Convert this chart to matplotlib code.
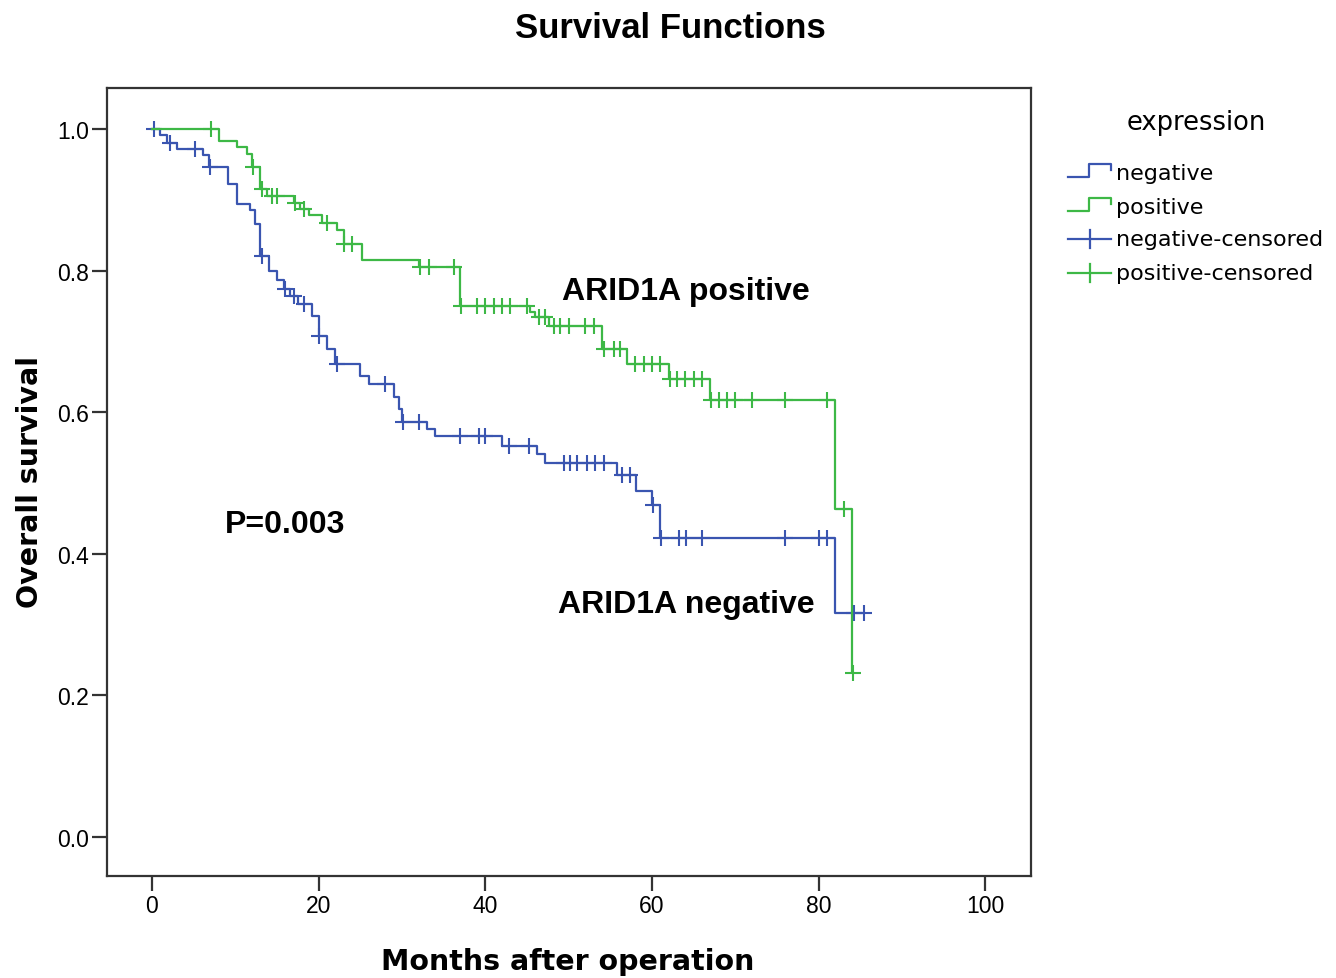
import numpy as np
import matplotlib
matplotlib.use("Agg")
import matplotlib.pyplot as plt
from matplotlib.lines import Line2D

# negative group: step times and survival after each step
neg_times = [1.0, 1.8, 3.0, 6.1, 6.8, 9.1, 10.2, 11.8, 12.4, 13.0, 14.0, 15.0,
             15.8, 16.6, 17.5, 19.2, 20.0, 21.0, 22.0, 25.0, 26.0, 29.0, 29.6,
             30.0, 33.0, 34.0, 42.0, 46.2, 47.2, 55.8, 58.1, 60.0, 61.0, 82.0]
neg_surv = [0.991, 0.981, 0.972, 0.963, 0.946, 0.922, 0.894, 0.885, 0.866,
            0.821, 0.800, 0.787, 0.774, 0.764, 0.753, 0.736, 0.708, 0.689,
            0.668, 0.651, 0.640, 0.621, 0.605, 0.586, 0.576, 0.567, 0.553,
            0.541, 0.529, 0.511, 0.489, 0.469, 0.423, 0.317]
neg_censored = [0.2, 2.2, 5.2, 7.0, 13.2, 16.0, 17.0, 18.2, 20.1, 22.2, 28.0,
                30.1, 32.0, 37.0, 39.2, 40.0, 42.8, 45.2, 49.4, 50.2, 51.0,
                52.2, 53.2, 54.2, 56.4, 57.4, 60.1, 61.1, 63.2, 64.1, 66.0,
                76.0, 80.0, 81.0, 84.2, 85.4]

# positive group
pos_times = [8.0, 10.2, 11.4, 12.0, 13.0, 13.8, 17.0, 17.8, 18.8, 20.4, 22.2,
             23.0, 25.2, 32.0, 37.0, 45.4, 46.0, 47.6, 54.0, 57.0, 62.0, 67.0,
             82.0, 84.0]
pos_surv = [0.983, 0.974, 0.965, 0.946, 0.915, 0.905, 0.896, 0.887, 0.878,
            0.868, 0.858, 0.838, 0.815, 0.805, 0.750, 0.741, 0.734, 0.722,
            0.689, 0.668, 0.647, 0.617, 0.463, 0.232]
pos_censored = [7.1, 12.1, 13.2, 14.4, 15.0, 17.2, 18.3, 21.0, 23.1, 24.0,
                32.2, 33.2, 36.2, 37.1, 39.0, 40.0, 41.0, 42.0, 43.0, 45.0,
                46.4, 47.2, 48.2, 49.0, 50.0, 52.0, 53.0, 54.2, 55.4, 56.2,
                58.0, 59.0, 60.0, 61.0, 62.2, 63.0, 64.0, 65.0, 66.0, 67.1,
                68.0, 69.0, 70.0, 72.0, 76.0, 81.0, 83.0, 84.1]

blue = "#3A55B0"
green = "#3DB846"
legend_labels = ["negative", "positive", "negative-censored", "positive-censored"]


def surv_at(times, surv, t):
    idx = np.searchsorted(times, t, side="right")
    return 1.0 if idx == 0 else surv[idx - 1]


def draw_group(ax, times, surv, cens, color):
    end = max(max(cens), times[-1])
    xs = [0.0] + list(times) + [end]
    ys = [1.0] + list(surv) + [surv[-1]]
    ax.step(xs, ys, where="post", color=color, lw=1.6)
    cy = [surv_at(times, surv, t) for t in cens]
    ax.plot(cens, cy, ls="none", marker="+", ms=12, mew=1.5, color=color)


W, H = 1336, 979
fig = plt.figure(figsize=(W / 100, H / 100), dpi=100)
ax = fig.add_axes([107 / W, 1 - 877 / H, (1031 - 107) / W, (877 - 89) / H])

draw_group(ax, neg_times, neg_surv, neg_censored, blue)
draw_group(ax, pos_times, pos_surv, pos_censored, green)

ax.set_xlim(-5.4, 105.5)
ax.set_ylim(-0.055, 1.058)
ax.set_xticks([0, 20, 40, 60, 80, 100])
ax.set_yticks([0.0, 0.2, 0.4, 0.6, 0.8, 1.0])
ax.set_yticklabels(["0.0", "0.2", "0.4", "0.6", "0.8", "1.0"])
for s in ax.spines.values():
    s.set_linewidth(1.6)
    s.set_color("#333333")
ax.tick_params(length=11, width=1.6, color="#333333", pad=2,
               labelsize=16.5, labelfontfamily="Liberation Sans")


def fx(x):
    return x / W


def fy(y):
    return 1 - y / H


# axis titles, placed like the reference
fig.text(fx(568), fy(962), "Months after operation", ha="center", va="center",
         fontsize=20.5, fontweight="bold")
fig.text(fx(30), fy(482), "Overall survival", ha="center", va="center",
         rotation=90, fontsize=20.5, fontweight="bold")

bold = dict(fontfamily="Liberation Sans", fontweight="bold", fontsize=23,
            va="center")
ax.text(49.2, 0.771, "ARID1A positive", **bold)
ax.text(8.8, 0.442, "P=0.003", **bold)
ax.text(48.7, 0.329, "ARID1A negative", **bold)

fig.text(fx(670), fy(28), "Survival Functions", ha="center", va="center",
         fontfamily="Liberation Sans", fontweight="bold", fontsize=25)

# legend, drawn in pixel positions of the figure
fig.text(fx(1196), fy(123), "expression", ha="center", va="center", fontsize=18.5)
rows = [174, 208, 240, 274]
colors = [blue, green, blue, green]
for i, (lab, c, r) in enumerate(zip(legend_labels, colors, rows)):
    if i < 2:
        xs = [1068, 1089, 1089, 1111, 1111]
        ys = [r + 4, r + 4, r - 9, r - 9, r - 3]
        fig.add_artist(Line2D([fx(v) for v in xs], [fy(v) for v in ys],
                              transform=fig.transFigure, color=c, lw=1.6))
    else:
        fig.add_artist(Line2D([fx(1068), fx(1111)], [fy(r), fy(r)],
                              transform=fig.transFigure, color=c, lw=1.6))
        fig.add_artist(Line2D([fx(1090), fx(1090)], [fy(r - 9), fy(r + 9)],
                              transform=fig.transFigure, color=c, lw=1.6))
    fig.text(fx(1116), fy(r), lab, ha="left", va="center", fontsize=16)

fig.savefig("out.png", dpi=100)
